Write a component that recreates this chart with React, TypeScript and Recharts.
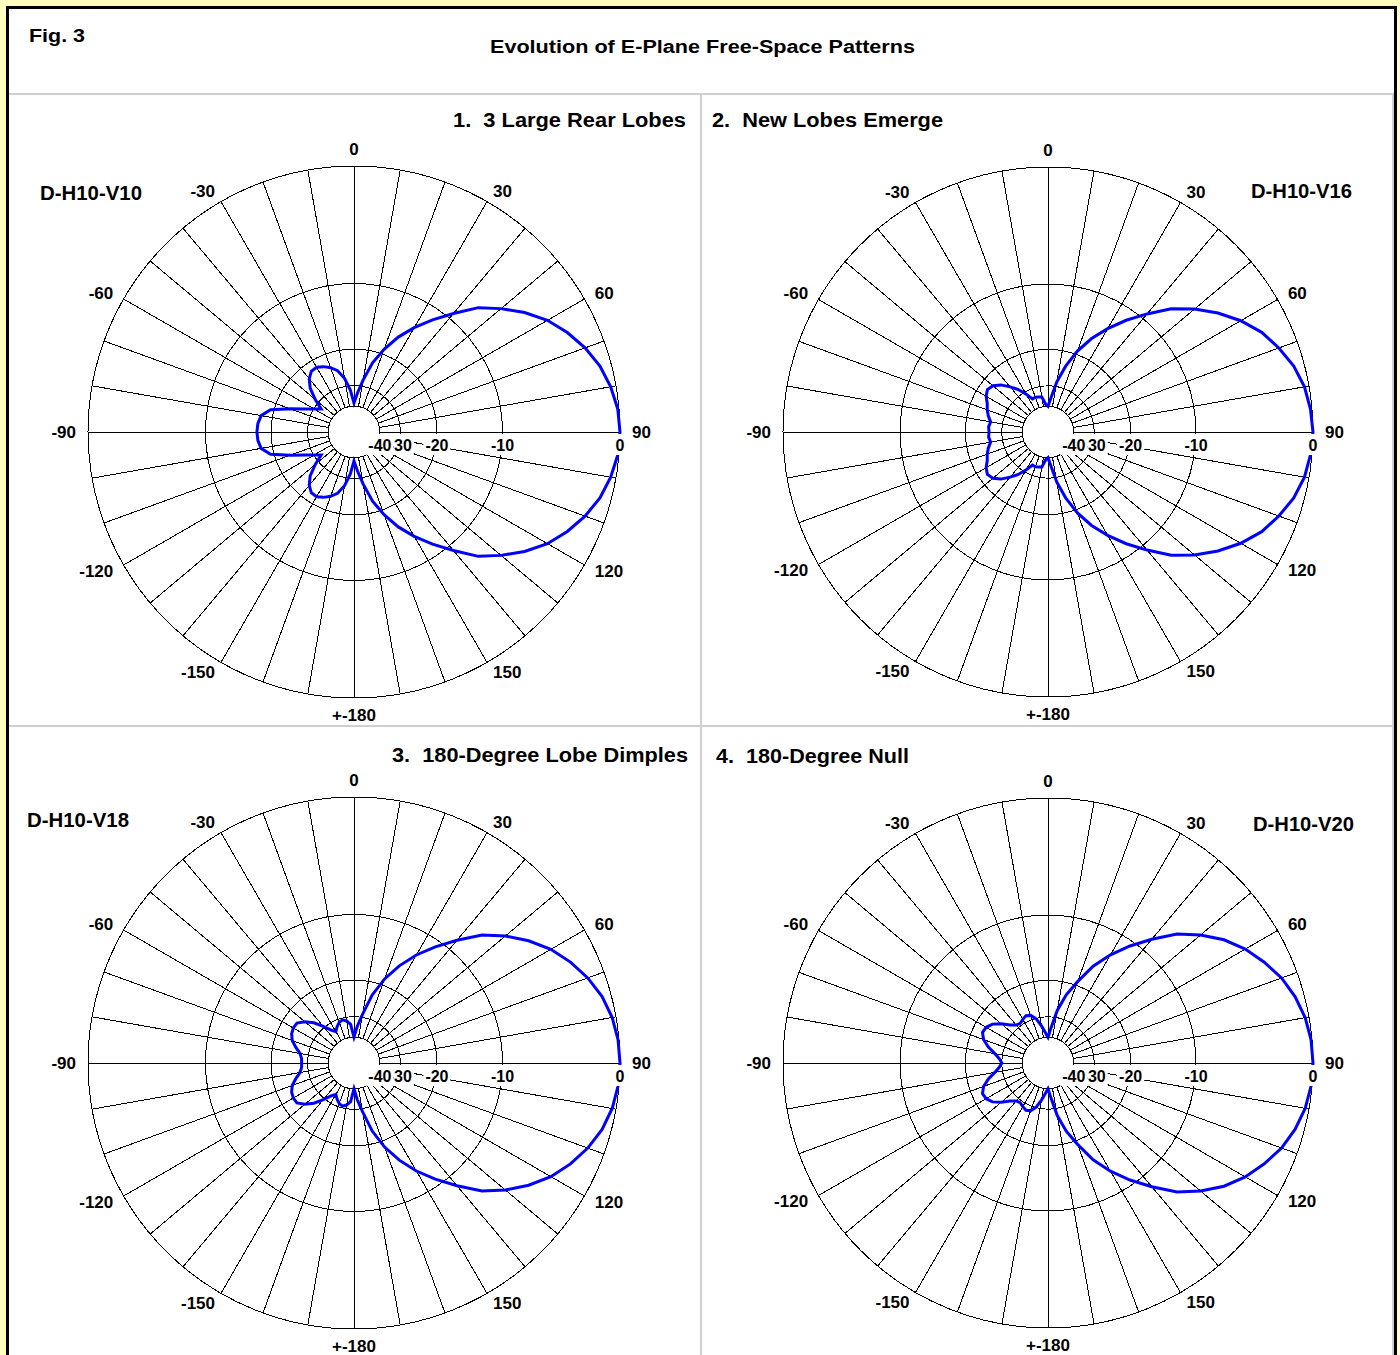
import { RadarChart, Radar, PolarGrid, PolarAngleAxis, PolarRadiusAxis } from "recharts";

// compass bearings, clockwise from the top, 5 degree steps
const bearings = [
  0, 5, 10, 15, 20, 25, 30, 35, 40, 45, 50, 55,
  60, 65, 70, 75, 80, 85, 90, 95, 100, 105, 110, 115,
  120, 125, 130, 135, 140, 145, 150, 155, 160, 165, 170, 175,
  180, 185, 190, 195, 200, 205, 210, 215, 220, 225, 230, 235,
  240, 245, 250, 255, 260, 265, 270, 275, 280, 285, 290, 295,
  300, 305, 310, 315, 320, 325, 330, 335, 340, 345, 350, 355,
];

// relative gain in dB at each bearing
const gainV10 = [
  -38, -33, -27.7, -22.5, -19, -16, -13.6, -11.4, -9.3, -7.1, -5.6, -4.2,
  -3.0, -2.1, -1.35, -0.75, -0.35, -0.08, 0, -0.08, -0.35, -0.75, -1.35, -2.1,
  -3.0, -4.2, -5.6, -7.1, -9.3, -11.4, -13.6, -16, -19, -22.5, -27.7, -33,
  -38, -31.6, -27.2, -24.6, -23.3, -22.4, -21.8, -21.9, -23.0, -25.0, -28.5, -32.5,
  -30.2, -27.2, -23.5, -19.3, -17.8, -17.4, -17.3, -17.4, -17.8, -19.3, -23.5, -27.2,
  -30.2, -32.5, -28.5, -25.0, -23.0, -21.9, -21.8, -22.4, -23.3, -24.6, -27.2, -31.6,
];

const gainV16 = [
  -40, -35, -28.3, -23.3, -19.3, -16.2, -13.7, -11.4, -9.3, -7.2, -5.6, -4.2,
  -3.0, -2.0, -1.3, -0.7, -0.3, -0.1, 0, -0.1, -0.3, -0.7, -1.3, -2.0,
  -3.0, -4.2, -5.6, -7.2, -9.3, -11.4, -13.7, -16.2, -19.3, -23.3, -28.3, -35,
  -40, -38.5, -34.5, -34.2, -33.8, -34.0, -31.0, -28.0, -25.8, -23.7, -22.4, -21.9,
  -22.5, -23.6, -24.2, -25.0, -26.0, -25.6, -25.8, -25.6, -26.0, -25.0, -24.2, -23.6,
  -22.5, -21.9, -22.4, -23.7, -25.8, -28.0, -31.0, -34.0, -33.8, -34.2, -34.5, -38.5,
];

const gainV18 = [
  -40, -34, -28.8, -22.8, -18.7, -15.6, -13.0, -10.8, -8.7, -6.6, -5.1, -3.8,
  -2.7, -1.85, -1.15, -0.6, -0.25, -0.06, 0, -0.06, -0.25, -0.6, -1.15, -1.85,
  -2.7, -3.8, -5.1, -6.6, -8.7, -10.8, -13.0, -15.6, -18.7, -22.8, -28.8, -34,
  -40, -33, -31.4, -30.6, -31.2, -32.5, -34.2, -32.5, -29.5, -26.5, -24.4, -23.0,
  -22.9, -23.2, -24.0, -25.5, -27.1, -27.8, -27.9, -27.8, -27.1, -25.5, -24.0, -23.2,
  -22.9, -23.0, -24.4, -26.5, -29.5, -32.5, -34.2, -32.5, -31.2, -30.6, -31.4, -33,
];

const gainV20 = [
  -40, -34.5, -27.5, -22.7, -19.2, -15.6, -12.9, -10.6, -8.5, -6.4, -4.9, -3.6,
  -2.6, -1.8, -1.1, -0.6, -0.25, -0.06, 0, -0.06, -0.25, -0.6, -1.1, -1.8,
  -2.6, -3.6, -4.9, -6.4, -8.5, -10.6, -12.9, -15.6, -19.2, -22.7, -27.5, -34.5,
  -40, -37, -33.5, -30.2, -28.4, -27.9, -28.5, -29.2, -28.8, -27.4, -25.2, -23.4,
  -22.5, -22.3, -23.2, -25.0, -27.3, -29.0, -30.0, -29.0, -27.3, -25.0, -23.2, -22.3,
  -22.5, -23.4, -25.2, -27.4, -28.8, -29.2, -28.5, -27.9, -28.4, -30.2, -33.5, -37,
];

// grid rings and spokes
const ringDb = [0, -10, -20, -30, -40];
const spokeBearings = [
  0, 10, 20, 30, 40, 50, 60, 70, 80, 90, 100, 110,
  120, 130, 140, 150, 160, 170, 180, 190, 200, 210, 220, 230,
  240, 250, 260, 270, 280, 290, 300, 310, 320, 330, 340, 350,
];
const labelBearings = [0, 30, 60, 90, 120, 150, 180, 210, 240, 270, 300, 330];
const bearingLabels = ["0", "30", "60", "90", "120", "150", "+-180", "-150", "-120", "-90", "-60", "-30"];

const FONT = "'Liberation Sans', Arial, Helvetica, sans-serif";

// ARRL log-periodic radius (0.89 per 2 dB), rescaled so -40 dB sits on the inner hole
const arrl = (db: number) => Math.pow(0.89, -db / 2);
const A40 = arrl(-40);
const level = (db: number) => (arrl(db) - A40) / (1 - A40);
const dbOf = (l: number) => Math.round((-2 * Math.log(l * (1 - A40) + A40)) / Math.log(0.89));

// rough bold sans advance widths, em units
const textWidth = (s: string, size: number) =>
  s.split("").reduce((w, ch) => w + (ch === "-" ? 0.333 : ch === "+" ? 0.584 : 0.556), 0) * size;

function AngleTick(props: any) {
  const { x, y, payload } = props;
  const i = labelBearings.indexOf(payload.value);
  if (i < 0) return <g />;
  const label = bearingLabels[i];
  const w = textWidth(label, 17);
  const rad = (payload.value * Math.PI) / 180;
  const s = Math.sin(rad);
  const c = Math.cos(rad);
  const onAxis = Math.abs(s) < 0.01;
  const ox = onAxis ? 0 : Math.sign(s) * (w / 2);
  const oy = onAxis ? -Math.sign(c) * 5 : 0;
  return (
    <text x={x + ox} y={y + oy} textAnchor="middle" dominantBaseline="central" fontFamily={FONT} fontWeight="bold" fontSize={17} fill="#000">
      {label}
    </text>
  );
}

function RingTick(props: any) {
  const { x, y, payload } = props;
  const label = String(dbOf(payload.value));
  const w = textWidth(label, 16) + 4;
  return (
    <g>
      <rect x={x - w / 2} y={y + 2} width={w} height={21} fill="#fff" />
      <text x={x} y={y + 13} textAnchor="middle" dominantBaseline="central" fontFamily={FONT} fontWeight="bold" fontSize={16} fill="#000">
        {label}
      </text>
    </g>
  );
}

interface PlotProps {
  gain: number[];
  left: number;
  top: number;
  cx: number;
  cy: number;
  radius: number;
  height: number;
}

function PatternPlot({ gain, left, top, cx, cy, radius, height }: PlotProps) {
  const data = bearings.map((b, i) => ({ bearing: b, level: level(gain[i]) }));
  return (
    <div style={{ position: "absolute", left, top }}>
      <RadarChart
        width={692}
        height={height}
        data={data}
        cx={cx}
        cy={cy}
        innerRadius={radius * A40}
        outerRadius={radius}
        startAngle={90}
        endAngle={-270}
        margin={{ top: 0, right: 0, bottom: 0, left: 0 }}
      >
        <PolarGrid
          gridType="circle"
          polarAngles={spokeBearings.map((b) => 90 - b)}
          stroke="#000"
          strokeWidth={1}
          strokeOpacity={1}
          shapeRendering="crispEdges"
        />
        <PolarAngleAxis dataKey="bearing" tick={AngleTick} tickLine={false} axisLine={false} tickSize={12} />
        <Radar dataKey="level" stroke="#0000ff" strokeWidth={3} fill="none" fillOpacity={0} dot={false} isAnimationActive={false} />
        <PolarRadiusAxis
          angle={0}
          type="number"
          domain={[0, 1]}
          ticks={ringDb.map(level)}
          tick={RingTick}
          axisLine={false}
          tickLine={false}
          allowDataOverflow
        />
      </RadarChart>
    </div>
  );
}

const txt = { fontFamily: FONT, fontWeight: "bold" as const, fill: "#000" };

export default function App() {
  return (
    <div style={{ position: "absolute", left: 0, top: 0, width: 1400, height: 1355, background: "#ffffc0", overflow: "hidden" }}>
      <div style={{ position: "absolute", left: 6, top: 6, width: 1385, height: 1400, border: "3px solid #000", background: "#fff" }} />
      {/* panel separators */}
      <div style={{ position: "absolute", left: 9, top: 93, width: 1385, height: 2, background: "#d0d0d0" }} />
      <div style={{ position: "absolute", left: 1392, top: 93, width: 2, height: 1300, background: "#d0d0d0" }} />
      <div style={{ position: "absolute", left: 700, top: 95, width: 2, height: 1300, background: "#d0d0d0" }} />
      <div style={{ position: "absolute", left: 9, top: 725, width: 1383, height: 2, background: "#d0d0d0" }} />

      <PatternPlot gain={gainV10} left={9} top={96} cx={345} cy={336} radius={266} height={630} />
      <PatternPlot gain={gainV16} left={703} top={96} cx={345} cy={336} radius={265} height={630} />
      <PatternPlot gain={gainV18} left={9} top={729} cx={345} cy={334} radius={266} height={626} />
      <PatternPlot gain={gainV20} left={703} top={729} cx={345} cy={334} radius={265} height={626} />

      <svg width={1400} height={1355} style={{ position: "absolute", left: 0, top: 0, pointerEvents: "none" }}>
        <text x={29} y={36} dominantBaseline="central" fontSize={18} textLength={56} lengthAdjust="spacingAndGlyphs" {...txt}>Fig. 3</text>
        <text x={490} y={47} dominantBaseline="central" fontSize={18} textLength={425} lengthAdjust="spacingAndGlyphs" {...txt}>
          Evolution of E-Plane Free-Space Patterns
        </text>
        <text x={453} y={120} dominantBaseline="central" fontSize={20} textLength={233} lengthAdjust="spacingAndGlyphs" style={{ whiteSpace: "pre" }} {...txt}>
          1.  3 Large Rear Lobes
        </text>
        <text x={712} y={120} dominantBaseline="central" fontSize={20} textLength={231} lengthAdjust="spacingAndGlyphs" style={{ whiteSpace: "pre" }} {...txt}>
          2.  New Lobes Emerge
        </text>
        <text x={392} y={755} dominantBaseline="central" fontSize={20} textLength={296} lengthAdjust="spacingAndGlyphs" style={{ whiteSpace: "pre" }} {...txt}>
          3.  180-Degree Lobe Dimples
        </text>
        <text x={716} y={756} dominantBaseline="central" fontSize={20} textLength={193} lengthAdjust="spacingAndGlyphs" style={{ whiteSpace: "pre" }} {...txt}>
          4.  180-Degree Null
        </text>
        <text x={40} y={193} dominantBaseline="central" fontSize={20} textLength={102} lengthAdjust="spacingAndGlyphs" {...txt}>D-H10-V10</text>
        <text x={1251} y={191} dominantBaseline="central" fontSize={20} textLength={101} lengthAdjust="spacingAndGlyphs" {...txt}>D-H10-V16</text>
        <text x={27} y={820} dominantBaseline="central" fontSize={20} textLength={102} lengthAdjust="spacingAndGlyphs" {...txt}>D-H10-V18</text>
        <text x={1253} y={824} dominantBaseline="central" fontSize={20} textLength={101} lengthAdjust="spacingAndGlyphs" {...txt}>D-H10-V20</text>
      </svg>
    </div>
  );
}
